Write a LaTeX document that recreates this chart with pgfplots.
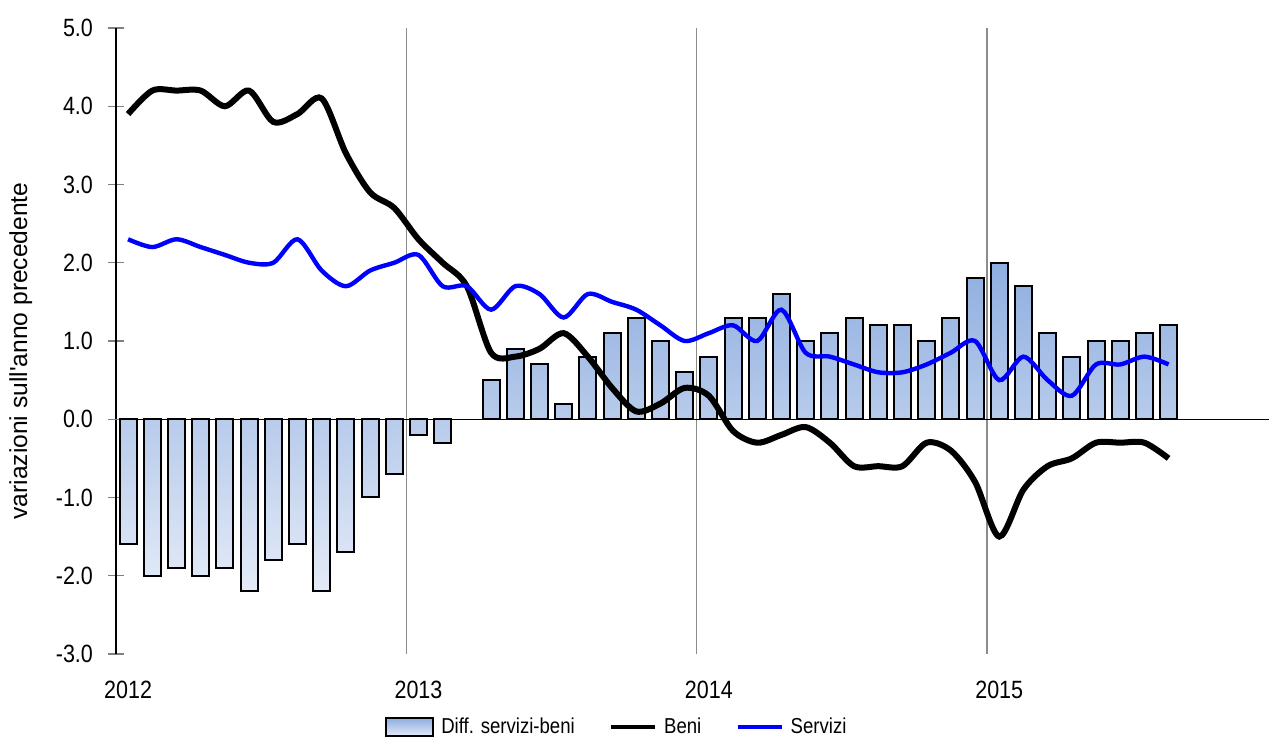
\documentclass[border=0pt]{standalone}
\usepackage{pgfplots}
\pgfplotsset{compat=1.18}
\usepackage{fontspec}
\setmainfont{Liberation Sans}[FakeStretch=0.86]
\newfontfamily\ylfont{Liberation Sans}
\usetikzlibrary{calc}
\definecolor{bartop}{RGB}{143,174,224}
\definecolor{barbot}{RGB}{228,235,247}
\definecolor{serv}{RGB}{0,0,255}
\begin{document}
\begin{tikzpicture}
\begin{axis}[
  scale only axis,
  width=576.5pt, height=313pt,
  xmin=-0.5, xmax=47.15,
  ymin=-3, ymax=5,
  axis lines*=left,
  axis line style={-},
  x axis line style={draw=none},
  y axis line style={black, line width=0.6pt},
  ytick={-3,-2,-1,0,1,2,3,4,5},
  yticklabels={-3.0,-2.0,-1.0,0.0,1.0,2.0,3.0,4.0,5.0},
  ytick align=center,
  y tick style={gray, line width=0.6pt},
  major tick length=8pt,
  xtick={0,12,24,36},
  xticklabels={2012,2013,2014,2015},
  x tick style={draw=none},
  tick label style={font=\fontsize{12.5}{14}\selectfont},
  xticklabel style={yshift=-10pt},
  yticklabel style={xshift=-4pt},
  extra x ticks={11.5,23.5,35.5},
  extra x tick labels={},
  extra x tick style={grid=major, major grid style={gray!90, line width=0.65pt}},
  extra y ticks={0},
  extra y tick labels={},
  extra y tick style={grid=major, major grid style={black, line width=0.6pt}},
  ylabel={variazioni sull'anno precedente},
  ylabel style={font=\ylfont\fontsize{12.3}{14}\selectfont, yshift=-3pt, xshift=-5pt},
  legend columns=3,
  legend style={draw=none, fill=none, at={(0.233,-0.117)}, anchor=west,
    font=\fontsize{10.8}{12}\selectfont,
    /tikz/every odd column/.append style={column sep=1.5pt},
    /tikz/every even column/.append style={column sep=15pt},
    inner sep=0pt},
  clip=false,
]
\addplot[ybar, bar width=8.5pt, draw=black, line width=1pt, top color=bartop, bottom color=barbot,
  legend image code/.code={\draw[black, line width=1.1pt, top color=bartop, bottom color=barbot] (0pt,-4.5pt) rectangle (23.5pt,4.5pt);}]
coordinates {
(0,-1.6)(1,-2.0)(2,-1.9)(3,-2.0)(4,-1.9)(5,-2.2)(6,-1.8)(7,-1.6)(8,-2.2)(9,-1.7)(10,-1.0)(11,-0.7)
(12,-0.2)(13,-0.3)(15,0.5)(16,0.9)(17,0.7)(18,0.2)(19,0.8)(20,1.1)(21,1.3)(22,1.0)(23,0.6)
(24,0.8)(25,1.3)(26,1.3)(27,1.6)(28,1.0)(29,1.1)(30,1.3)(31,1.2)(32,1.2)(33,1.0)(34,1.3)(35,1.8)
(36,2.0)(37,1.7)(38,1.1)(39,0.8)(40,1.0)(41,1.0)(42,1.1)(43,1.2)
};
\addlegendentry{Diff. servizi-beni}
\addplot[black, line width=3pt, smooth, no marks,
  legend image code/.code={\draw[black, line width=2.2pt] (0pt,0pt) -- (22pt,0pt);}]
coordinates {
(0,3.9)(1,4.2)(2,4.2)(3,4.2)(4,4.0)(5,4.2)(6,3.8)(7,3.9)(8,4.1)(9,3.4)(10,2.9)(11,2.7)
(12,2.3)(13,2.0)(14,1.7)(15,0.85)(16,0.8)(17,0.9)(18,1.1)(19,0.8)(20,0.4)(21,0.1)(22,0.2)(23,0.4)
(24,0.3)(25,-0.15)(26,-0.3)(27,-0.2)(28,-0.1)(29,-0.3)(30,-0.6)(31,-0.6)(32,-0.6)(33,-0.3)(34,-0.4)(35,-0.8)
(36,-1.5)(37,-0.9)(38,-0.6)(39,-0.5)(40,-0.3)(41,-0.3)(42,-0.3)(43,-0.5)
};
\addlegendentry{Beni}
\addplot[serv, line width=2.2pt, smooth, no marks,
  legend image code/.code={\draw[serv, line width=2.2pt] (0pt,0pt) -- (22pt,0pt);}]
coordinates {
(0,2.3)(1,2.2)(2,2.3)(3,2.2)(4,2.1)(5,2.0)(6,2.0)(7,2.3)(8,1.9)(9,1.7)(10,1.9)(11,2.0)
(12,2.1)(13,1.7)(14,1.7)(15,1.4)(16,1.7)(17,1.6)(18,1.3)(19,1.6)(20,1.5)(21,1.4)(22,1.2)(23,1.0)
(24,1.1)(25,1.2)(26,1.0)(27,1.4)(28,0.85)(29,0.8)(30,0.7)(31,0.6)(32,0.6)(33,0.7)(34,0.85)(35,1.0)
(36,0.5)(37,0.8)(38,0.5)(39,0.3)(40,0.7)(41,0.7)(42,0.8)(43,0.7)
};
\addlegendentry{Servizi}
\end{axis}
\pgfresetboundingbox
\path[use as bounding box] ($(current axis.south west)+(-58pt,-44pt)$) rectangle ($(current axis.north east)+(0pt,14pt)$);
\end{tikzpicture}
\end{document}
